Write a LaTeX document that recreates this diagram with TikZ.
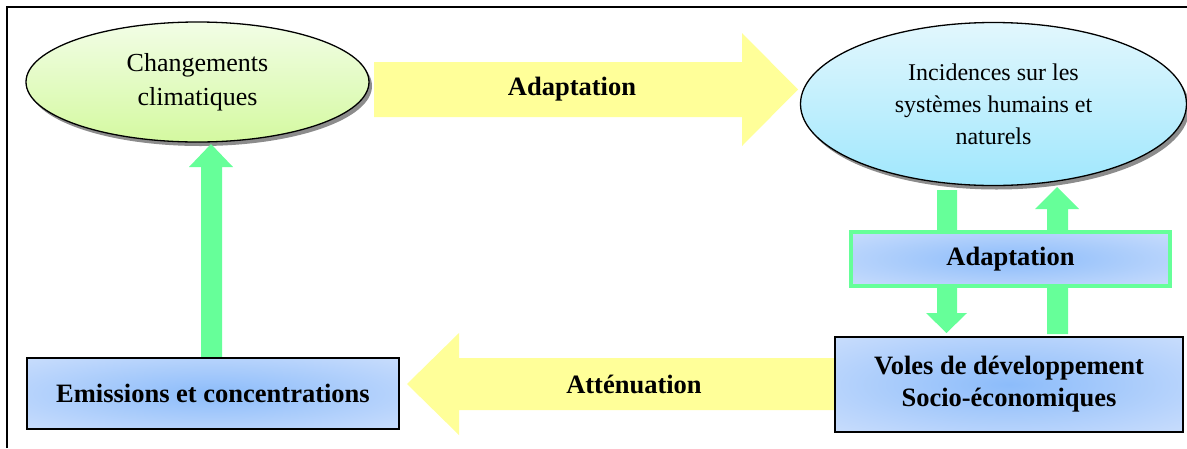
\documentclass[tikz,border=0pt]{standalone}
\usepackage{fontspec}
\setmainfont{Liberation Serif}
\usetikzlibrary{shapes.geometric,shadows,calc}
\definecolor{agreen}{HTML}{66FF99}
\definecolor{ayellow}{HTML}{FFFF99}
\definecolor{eonetop}{HTML}{F2FDE6}
\definecolor{eonebot}{HTML}{D4F9A0}
\definecolor{etwotop}{HTML}{E2F7FD}
\definecolor{etwobot}{HTML}{A0E7FD}
\definecolor{boxin}{HTML}{8CBCFA}
\definecolor{boxmid}{HTML}{BCD6FC}
\definecolor{boxout}{HTML}{DCE8FC}
\pgfdeclareradialshading{boxshade}{\pgfpoint{0bp}{0bp}}{color(0bp)=(boxin); color(28bp)=(boxmid); color(48bp)=(boxout); color(100bp)=(boxout)}
\tikzset{
  ellnode/.style={ellipse, draw=black, line width=1.3pt, inner sep=0pt, align=center,
    drop shadow={shadow xshift=3pt, shadow yshift=-4pt, fill=black!45, opacity=1}},
  boxnode/.style={rectangle, draw=black, line width=1.6pt, inner sep=0pt, align=center,
    shading=boxshade, font=\bfseries\fontsize{26.5}{32}\selectfont},
  yarrow/.style={fill=ayellow, draw=none},
  garrow/.style={fill=agreen, draw=none},
  lbl/.style={font=\bfseries\fontsize{26.5}{32}\selectfont, inner sep=0pt}
}
\begin{document}
\begin{tikzpicture}[x=1pt,y=-1pt]
\useasboundingbox (0,0) rectangle (1187,448);
\fill[white] (0,0) rectangle (1187,448);
% frame
\draw[line width=1.4pt] (7,448) -- (7,7) -- (1187,7);

% yellow arrows
\fill[yarrow] (374,62) -- (742,62) -- (742,33) -- (798,89.5) -- (742,146) -- (742,117) -- (374,117) -- cycle;
\node[lbl] (adtop) at (572,89) {Adaptation};
\fill[yarrow] (840,358) -- (459,358) -- (459,333) -- (407,384) -- (459,435) -- (459,410) -- (840,410) -- cycle;
\node[lbl] (att) at (634,384) {Atténuation};

% ellipses
\node[ellnode, minimum width=343pt, minimum height=120pt, top color=eonetop, bottom color=eonebot,
  font=\fontsize{26}{34}\selectfont] (e1) at (197.5,82) {Changements\\climatiques};
\node[ellnode, minimum width=386pt, minimum height=163pt, top color=etwotop, bottom color=etwobot,
  font=\fontsize{24}{32}\selectfont] (e2) at (993.5,104) {Incidences sur les\\systèmes humains et\\naturels};

% box positions
\path (213,393.5) coordinate (emc);
\path (1009,384.5) coordinate (vc);

% green arrows
\fill[garrow] (201,360) -- (201,167) -- (189,167) -- (211,144) -- (233,167) -- (222,167) -- (222,360) -- cycle;
\fill[garrow] (937,190) -- (957,190) -- (957,313) -- (967,313) -- (946.5,333) -- (926,313) -- (937,313) -- cycle;
\fill[garrow] (1047,334) -- (1047,209) -- (1035,209) -- (1057,187) -- (1079,209) -- (1068,209) -- (1068,334) -- cycle;

% adaptation box
\node[boxnode, draw=agreen, line width=4pt, minimum width=319pt, minimum height=54pt] (adbox) at (1010.5,259) {Adaptation};

% boxes
\node[boxnode, minimum width=372pt, minimum height=71pt] (em) at (emc) {Emissions et concentrations};
\node[boxnode, minimum width=348pt, minimum height=95pt] (voles) at (vc) {Voles de développement\\Socio-économiques};
\end{tikzpicture}
\end{document}
